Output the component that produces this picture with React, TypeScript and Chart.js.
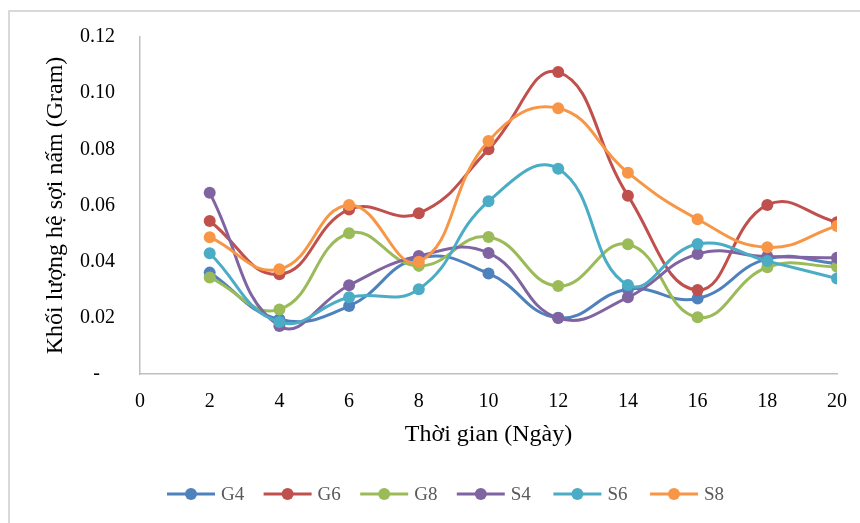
import { useEffect, useRef } from "react";
import { Chart, registerables } from "chart.js";
Chart.register(...registerables);

const days = [2, 4, 6, 8, 10, 12, 14, 16, 18, 20];
const seriesNames = ["G4", "G6", "G8", "S4", "S6", "S8"];
const g4 = [0.0361, 0.0195, 0.0242, 0.0413, 0.0358, 0.02, 0.0302, 0.0269, 0.041, 0.0394];
const g6 = [0.0545, 0.0355, 0.0586, 0.0572, 0.08, 0.1075, 0.0635, 0.0299, 0.0602, 0.054];
const g8 = [0.0344, 0.023, 0.0501, 0.0385, 0.0488, 0.0313, 0.0462, 0.0202, 0.038, 0.0382];
const s4 = [0.0645, 0.0171, 0.0316, 0.042, 0.0431, 0.0199, 0.0273, 0.0427, 0.0418, 0.0414];
const s6 = [0.043, 0.0185, 0.0273, 0.0302, 0.0615, 0.0731, 0.0317, 0.0463, 0.0402, 0.034];
const s8 = [0.0487, 0.0373, 0.0602, 0.04, 0.083, 0.0946, 0.0717, 0.0551, 0.0451, 0.0527];
const seriesValues = [g4, g6, g8, s4, s6, s8];
const colors = ["#4F81BD", "#C0504D", "#9BBB59", "#8064A2", "#4BACC6", "#F79646"];
const xTitle = "Thời gian (Ngày)";
const yTitle = "Khối lượng hệ sợi nấm (Gram)";

const SERIF = '"Liberation Serif", "Times New Roman", serif';

const framePlugin = {
  id: "frame",
  beforeDraw(chart: any) {
    const ctx = chart.ctx;
    ctx.save();
    ctx.fillStyle = "#ffffff";
    ctx.fillRect(0, 0, chart.width, chart.height);
    ctx.strokeStyle = "#d9d9d9";
    ctx.lineWidth = 2;
    ctx.beginPath();
    ctx.moveTo(9, chart.height);
    ctx.lineTo(9, 11);
    ctx.lineTo(chart.width, 11);
    ctx.stroke();
    ctx.restore();
  },
};

const legendPlugin = {
  id: "lineLegend",
  afterDraw(chart: any) {
    const ctx = chart.ctx;
    ctx.save();
    ctx.font = "19px " + SERIF;
    ctx.textBaseline = "middle";
    ctx.textAlign = "left";
    const y = 494;
    let x = 167;
    chart.data.datasets.forEach((ds: any) => {
      ctx.strokeStyle = ds.borderColor;
      ctx.fillStyle = ds.borderColor;
      ctx.lineWidth = 3;
      ctx.beginPath();
      ctx.moveTo(x, y);
      ctx.lineTo(x + 48, y);
      ctx.stroke();
      ctx.beginPath();
      ctx.arc(x + 24, y, 6, 0, Math.PI * 2);
      ctx.fill();
      ctx.fillStyle = "#595959";
      ctx.fillText(ds.label, x + 54, y + 1);
      x += 96.6;
    });
    ctx.restore();
  },
};

export default function App() {
  const ref = useRef<HTMLCanvasElement>(null);
  useEffect(() => {
    if (!ref.current) return;
    const chart = new Chart(ref.current, {
      type: "line",
      data: {
        datasets: seriesNames.map((name, i) => ({
          label: name,
          data: days.map((d, j) => ({ x: d, y: seriesValues[i][j] })),
          borderColor: colors[i],
          backgroundColor: colors[i],
          borderWidth: 3,
          pointRadius: 6,
          pointHoverRadius: 6,
          pointBorderWidth: 0,
          pointBackgroundColor: colors[i],
          tension: 0.45,
          fill: false,
          order: -i,
        })),
      },
      options: {
        responsive: false,
        animation: false,
        layout: { padding: { left: 0, top: 37, right: 23, bottom: 73 } },
        plugins: {
          legend: { display: false },
          tooltip: { enabled: false },
        },
        scales: {
          x: {
            type: "linear",
            min: 0,
            max: 20,
            afterFit: (s: any) => {
              s.height = 76;
              s.paddingLeft = 0;
              s.paddingRight = 0;
            },
            ticks: {
              stepSize: 2,
              color: "#000",
              font: { family: SERIF, size: 20 },
              padding: 16,
              maxRotation: 0,
            },
            grid: { display: false, drawTicks: false },
            border: { display: true, color: "#bfbfbf", width: 1.5 },
            title: {
              display: true,
              text: xTitle,
              color: "#000",
              font: { family: SERIF, size: 24 },
              padding: { top: 0, bottom: 1 },
            },
          },
          y: {
            min: 0,
            max: 0.12,
            afterFit: (s: any) => {
              s.width = 140;
            },
            ticks: {
              stepSize: 0.02,
              color: "#000",
              font: { family: SERIF, size: 20 },
              padding: 25,
              callback: (v: any) => {
                const n = Math.round(Number(v) * 100) / 100;
                return n === 0 ? "-   " : n.toFixed(2);
              },
            },
            grid: { display: false, drawTicks: false },
            border: { display: true, color: "#bfbfbf", width: 1.5 },
            title: {
              display: true,
              text: yTitle,
              color: "#000",
              font: { family: SERIF, size: 24 },
              padding: { top: 41, bottom: 0 },
            },
          },
        },
      },
      plugins: [framePlugin, legendPlugin],
    });
    return () => chart.destroy();
  }, []);
  return (
    <div style={{ position: "absolute", left: 0, top: 0, width: 860, height: 523 }}>
      <canvas ref={ref} width={860} height={523} />
    </div>
  );
}
